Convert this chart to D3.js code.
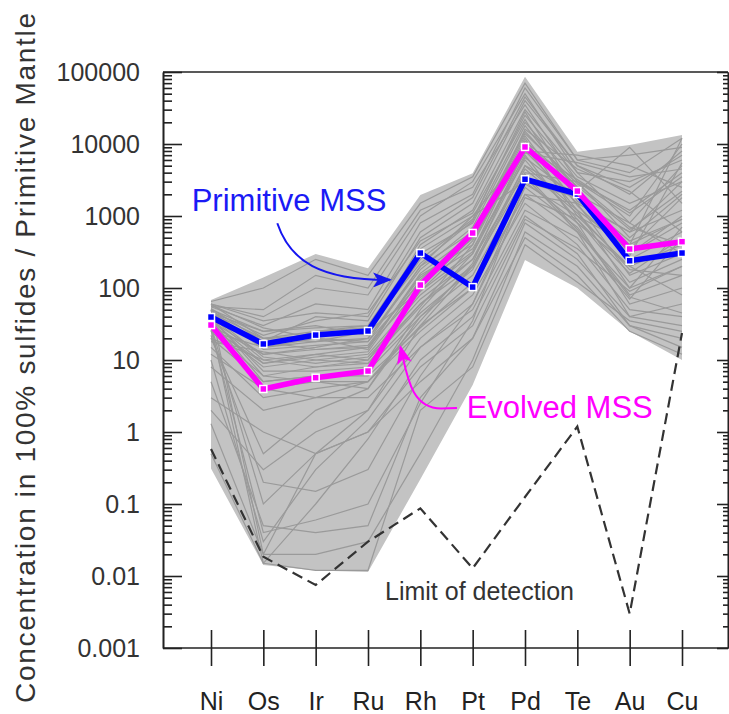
<!DOCTYPE html>
<html lang="en">
  <head>
    <meta charset="utf-8">
    <title>PGE spider diagram</title>
    <script src="https://cdn.jsdelivr.net/npm/d3@7"></script>
    <style>
      body { margin: 0; background: #fff; }
      text { font-family: "Liberation Sans", Arial, sans-serif; }
    </style>
  </head>
  <body>
    <script>
      // element order along the x axis
      var elements = ['Ni', 'Os', 'Ir', 'Ru', 'Rh', 'Pt', 'Pd', 'Te', 'Au', 'Cu']
      var yTicks = [0.001, 0.01, 0.1, 1, 10, 100, 1000, 10000, 100000]
      var yTickLabels = ['0.001', '0.01', '0.1', '1', '10', '100', '1000', '10000', '100000']

      // highlighted averages
      var primitive = [39.5, 16.7, 22.2, 25.3, 306, 103, 3240, 2020, 239, 306]
      var evolved = [30.6, 3.96, 5.68, 7.03, 110, 581, 9090, 2220, 348, 440]
      // detection limit (dashed)
      var detection = [0.58, 0.0185, 0.0075, 0.03, 0.087, 0.0128, 0.125, 1.19, 0.003, 23.7]
      // grey field of all analyses
      var fieldMax = [68, 140, 296, 188, 1950, 3920, 86000, 7820, 9700, 13300]
      var fieldMin = [0.31, 0.0142, 0.0119, 0.0114, 0.22, 4.5, 245, 100, 25, 10]

      // individual sulfide analyses (Ni, Os, Ir, Ru, Rh, Pt, Pd, Te, Au, Cu)
      var samples = [
        [60, 20, 25, 30, 300, 800, 20000, 3000, 500, 2000],
        [45, 15, 18, 20, 200, 600, 15000, 2500, 300, 800],
        [35, 12, 14, 15, 150, 400, 10000, 2000, 250, 600],
        [50, 25, 30, 22, 400, 1200, 30000, 4000, 800, 5000],
        [30, 8, 10, 12, 80, 300, 8000, 1500, 150, 300],
        [25, 6, 8, 9, 60, 200, 5000, 1200, 100, 200],
        [40, 18, 40, 35, 500, 1500, 40000, 5000, 2000, 8000],
        [55, 30, 60, 50, 800, 2000, 60000, 6000, 4000, 12000],
        [20, 5, 6, 7, 40, 150, 3000, 800, 60, 100],
        [15, 3, 4, 5, 30, 100, 2000, 600, 40, 60],
        [50, 0.02, 0.5, 2, 20, 80, 1500, 400, 50, 40],
        [30, 0.015, 0.1, 0.8, 10, 40, 1000, 300, 30, 20],
        [10, 0.03, 0.3, 1.5, 15, 60, 2500, 700, 80, 150],
        [5, 0.05, 0.04, 0.05, 3, 20, 800, 250, 40, 30],
        [1.3, 0.02, 0.02, 0.03, 0.5, 10, 600, 200, 30, 15],
        [2, 0.3, 1, 2, 30, 200, 5000, 2000, 300, 1000],
        [40, 10, 12, 15, 100, 500, 12000, 1000, 200, 400],
        [35, 20, 22, 25, 250, 900, 25000, 3500, 1500, 3000],
        [25, 15, 20, 18, 120, 350, 6000, 900, 120, 250],
        [45, 25, 28, 30, 350, 1000, 8000, 7000, 5000, 2500],
        [60, 40, 100, 80, 1000, 3000, 50000, 4000, 3000, 6000],
        [20, 10, 8, 10, 60, 250, 4000, 3000, 1000, 10000],
        [12, 4, 5, 5, 25, 100, 2000, 1500, 600, 3000],
        [30, 12, 15, 20, 180, 700, 18000, 2200, 9000, 1500],
        [8, 2, 3, 3, 15, 50, 1200, 500, 70, 500],
        [50, 14, 16, 18, 200, 1000, 3000, 1800, 400, 12000],
        [40, 6, 5, 4, 50, 300, 7000, 800, 200, 80],
        [3, 1, 0.5, 1, 8, 30, 900, 350, 90, 200],
        [65, 100, 250, 150, 1500, 3500, 70000, 6000, 7000, 9000],
        [55, 50, 150, 100, 1200, 2500, 35000, 3000, 1200, 4000],
        [30, 0.1, 0.5, 1, 5, 20, 500, 150, 25, 12],
        [20, 0.5, 2, 4, 40, 200, 3500, 600, 100, 700],
        [45, 20, 18, 25, 90, 450, 9000, 1200, 350, 1800],
        [35, 9, 11, 13, 130, 600, 14000, 2800, 700, 400],
        [0.5, 0.015, 0.012, 0.012, 2, 8, 400, 120, 35, 25],
        [60, 35, 45, 40, 600, 1800, 45000, 5000, 2500, 7000],
        [42, 11, 9, 11, 70, 250, 6500, 1800, 450, 900],
        [38, 7, 7, 8, 45, 180, 4500, 1100, 180, 150],
        [28, 9, 12, 10, 90, 320, 11000, 2600, 650, 2200],
        [48, 22, 35, 45, 450, 1100, 22000, 1600, 600, 1200],
        [33, 4, 3, 5, 35, 220, 9000, 3200, 1100, 3500],
        [22, 0.2, 0.15, 0.3, 6, 60, 1800, 900, 160, 500],
        [18, 13, 10, 9, 55, 400, 16000, 4500, 2200, 600],
        [58, 28, 20, 14, 160, 550, 13000, 1400, 280, 5500],
        [26, 0.04, 0.06, 0.1, 2.5, 35, 2800, 1000, 400, 900],
        [44, 16, 25, 28, 220, 850, 28000, 2000, 800, 300],
        [36, 5, 6, 6, 28, 120, 3800, 650, 75, 45],
        [52, 18, 14, 16, 140, 480, 7500, 5500, 3500, 4500]
      ]

      var width = 729, height = 714
      var plotLeft = 163, plotRight = 728, plotTop = 72, plotBottom = 648

      var svg = d3.select('body').append('svg').attr('width', width).attr('height', height)

      var x = d3.scalePoint().domain(elements).range([211, 682])
      // same positions by index, used to place the annotations
      var xi = d3.scaleLinear().domain([0, elements.length - 1]).range([211, 682])
      var y = d3.scaleLog().domain([0.001, 100000]).range([plotBottom, plotTop])

      function px(p) { return [xi(p[0]), y(p[1])] }

      var line = d3.line().x(function(d, i) { return x(elements[i]) }).y(function(d) { return y(d) })

      // grey field
      var area = d3.area()
        .x(function(d, i) { return x(elements[i]) })
        .y0(function(d) { return y(d[0]) })
        .y1(function(d) { return y(d[1]) })
      svg.append('path').datum(d3.zip(fieldMin, fieldMax))
        .attr('d', area).attr('fill', '#c3c3c3')

      svg.append('g').selectAll('path').data(samples).join('path')
        .attr('d', line).attr('fill', 'none').attr('stroke', '#9a9a9a').attr('stroke-width', 1.2)

      // detection limit
      svg.append('path').datum(detection).attr('d', line)
        .attr('fill', 'none').attr('stroke', '#333').attr('stroke-width', 2.2).attr('stroke-dasharray', '11,6')

      // axes
      var minor = []
      for (var e = -3; e < 5; e++) {
        for (var k = 2; k < 10; k++) minor.push(k * Math.pow(10, e))
      }

      function styleAxis(g) {
        g.select('.domain').attr('stroke', '#222').attr('stroke-width', 1.6)
        g.selectAll('.tick line').attr('stroke', '#222').attr('stroke-width', 1.6)
        g.selectAll('text').attr('font-family', '"Liberation Sans", Arial, sans-serif')
          .attr('font-size', 25).attr('fill', '#333')
      }

      var yAxis = svg.append('g').attr('transform', 'translate(' + plotLeft + ',0)')
        .call(d3.axisLeft(y).tickValues(yTicks)
          .tickFormat(function(d) { return yTickLabels[yTicks.indexOf(d)] })
          .tickSizeInner(-19).tickSizeOuter(0).tickPadding(23))
      styleAxis(yAxis)
      var yMinor = svg.append('g').attr('transform', 'translate(' + plotLeft + ',0)')
        .call(d3.axisLeft(y).tickValues(minor).tickFormat('').tickSizeInner(-9).tickSizeOuter(0))
      styleAxis(yMinor)

      var rAxis = svg.append('g').attr('transform', 'translate(' + plotRight + ',0)')
        .call(d3.axisRight(y).tickValues(yTicks).tickFormat('').tickSizeInner(-11).tickSizeOuter(0))
      styleAxis(rAxis)
      var rMinor = svg.append('g').attr('transform', 'translate(' + plotRight + ',0)')
        .call(d3.axisRight(y).tickValues(minor).tickFormat('').tickSizeInner(-5).tickSizeOuter(0))
      styleAxis(rMinor)

      svg.append('line').attr('x1', plotLeft).attr('x2', plotRight).attr('y1', plotTop).attr('y2', plotTop)
        .attr('stroke', '#222').attr('stroke-width', 1.6)

      var xAxis = svg.append('g').attr('transform', 'translate(0,' + plotBottom + ')')
        .call(d3.axisBottom(x).tickSizeInner(18).tickSizeOuter(0).tickPadding(26))
      styleAxis(xAxis)
      xAxis.select('.domain').attr('d', 'M' + plotLeft + ',0H' + plotRight)
      xAxis.selectAll('.tick line').attr('y1', -18)
      xAxis.selectAll('text').attr('fill', '#222')

      svg.append('text')
        .attr('transform', 'translate(35,358) rotate(-90)')
        .attr('text-anchor', 'middle').attr('font-size', 28).attr('fill', '#333')
        .attr('textLength', 690).attr('lengthAdjust', 'spacing')
        .text('Concentration in 100% sulfides / Primitive Mantle')

      // highlighted series, blue first then magenta on top
      function drawSeries(values, color) {
        var g = svg.append('g')
        g.append('path').datum(values).attr('d', line)
          .attr('fill', 'none').attr('stroke', color).attr('stroke-width', 5.5).attr('stroke-linejoin', 'round')
        g.selectAll('rect').data(values).join('rect')
          .attr('x', function(d, i) { return x(elements[i]) - 3.5 })
          .attr('y', function(d) { return y(d) - 3.5 })
          .attr('width', 7).attr('height', 7)
          .attr('fill', color).attr('stroke', '#fff').attr('stroke-width', 1.5)
      }
      drawSeries(primitive, '#0000ff')
      drawSeries(evolved, '#ff00ff')

      // annotations, placed in (element index, value) space
      var defs = svg.append('defs')
      ;[['headBlue', '#1515f0'], ['headPink', '#ff00ff']].forEach(function(m) {
        defs.append('marker').attr('id', m[0])
          .attr('viewBox', '0 0 20 16').attr('refX', 18).attr('refY', 8)
          .attr('markerWidth', 19).attr('markerHeight', 15).attr('markerUnits', 'userSpaceOnUse')
          .attr('orient', 'auto')
          .append('path').attr('d', 'M0,0 L20,8 L0,16 L5,8 Z').attr('fill', m[1])
      })

      function curve(pts) {
        var p = pts.map(px)
        var d = 'M' + p[0]
        if (p.length === 5) d += 'L' + p[1] + 'C' + p[2] + ' ' + p[3] + ' ' + p[4]
        else d += 'C' + p[1] + ' ' + p[2] + ' ' + p[3]
        return d
      }

      var primArrow = [[1.267, 792], [1.516, 233], [2.089, 128], [3.42, 130]]
      var evolArrow = [[4.70, 2.15], [4.399, 2.12], [3.80, 2.12], [3.745, 6.5], [3.62, 15.2]]

      svg.append('path').attr('d', curve(primArrow)).attr('fill', 'none')
        .attr('stroke', '#1515f0').attr('stroke-width', 2).attr('marker-end', 'url(#headBlue)')
      svg.append('path').attr('d', curve(evolArrow)).attr('fill', 'none')
        .attr('stroke', '#ff00ff').attr('stroke-width', 2).attr('marker-end', 'url(#headPink)')

      var primText = px([-0.369, 1186])
      svg.append('text').attr('x', primText[0]).attr('y', primText[1])
        .attr('font-size', 31).attr('fill', '#1a1af5').text('Primitive MSS')
      var evolText = px([4.886, 1.55])
      svg.append('text').attr('x', evolText[0]).attr('y', evolText[1])
        .attr('font-size', 31).attr('fill', '#ff00ff').text('Evolved MSS')
      var lodText = px([3.325, 0.00464])
      svg.append('text').attr('x', lodText[0]).attr('y', lodText[1])
        .attr('font-size', 25).attr('fill', '#333').text('Limit of detection')
    </script>
  </body>
</html>
